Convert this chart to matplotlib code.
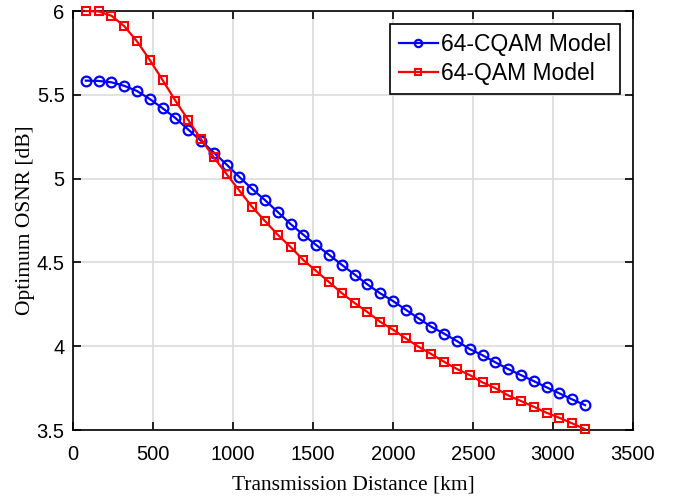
import numpy as np
import matplotlib.pyplot as plt

# transmission distance [km], one sample every 80 km
distance = np.arange(80, 3201, 80)

osnr_cqam = [5.585, 5.583, 5.575, 5.554, 5.523, 5.475, 5.420, 5.362, 5.293, 5.226,
             5.156, 5.084, 5.010, 4.938, 4.872, 4.801, 4.729, 4.665, 4.604, 4.546,
             4.486, 4.428, 4.369, 4.316, 4.270, 4.218, 4.166, 4.116, 4.075, 4.031,
             3.983, 3.946, 3.904, 3.864, 3.828, 3.792, 3.755, 3.719, 3.683, 3.649]

osnr_qam = [6.000, 5.998, 5.972, 5.910, 5.819, 5.708, 5.588, 5.465, 5.350, 5.236,
            5.127, 5.027, 4.928, 4.831, 4.747, 4.665, 4.592, 4.514, 4.449, 4.383,
            4.317, 4.258, 4.204, 4.146, 4.099, 4.047, 3.997, 3.953, 3.907, 3.864,
            3.828, 3.784, 3.750, 3.707, 3.673, 3.639, 3.603, 3.573, 3.540, 3.505]

xticks = [0, 500, 1000, 1500, 2000, 2500, 3000, 3500]
yticks = [3.5, 4, 4.5, 5, 5.5, 6]

plt.rcParams['font.family'] = ['Liberation Sans', 'DejaVu Sans']

fig = plt.figure(figsize=(6.78, 5.03), dpi=100)
ax = fig.add_axes([0.1077, 0.145, 0.8259, 0.833])

ax.plot(distance, osnr_cqam, '-o', color='#0000ff', lw=1.6, ms=7,
        mfc='none', mew=1.6, clip_on=False, zorder=3, label='64-CQAM Model')
ax.plot(distance, osnr_qam, '-s', color='#ff0000', lw=1.6, ms=5.5,
        mfc='none', mew=1.5, clip_on=False, zorder=3, label='64-QAM Model')

ax.set_xlim(0, 3500)
ax.set_ylim(3.5, 6)
ax.set_xticks(xticks)
ax.set_yticks(yticks)
ax.set_yticklabels(['3.5', '4', '4.5', '5', '5.5', '6'])
ax.grid(True, color='#dcdcdc', lw=1.2)
ax.set_axisbelow(True)
ax.tick_params(direction='in', top=True, right=True, labelsize=14.5, length=6,
               width=1.2)
ax.tick_params(axis='x', pad=11)
ax.tick_params(axis='y', pad=6)
for s in ax.spines.values():
    s.set_linewidth(1.2)

ax.set_xlabel('Transmission Distance [km]', family='Liberation Serif',
              fontsize=15.5, labelpad=8)
ax.set_ylabel('Optimum OSNR [dB]', family='Liberation Serif',
              fontsize=15.5, labelpad=1)

leg = ax.legend(loc='upper right', fontsize=16.5, fancybox=False, framealpha=1,
                edgecolor='black', handlelength=1.7, handletextpad=0.15,
                borderpad=0.4, labelspacing=0.25, borderaxespad=0.55,
                markerscale=0.75)
leg.get_frame().set_linewidth(1.2)

fig.savefig('out.png', dpi=100)
